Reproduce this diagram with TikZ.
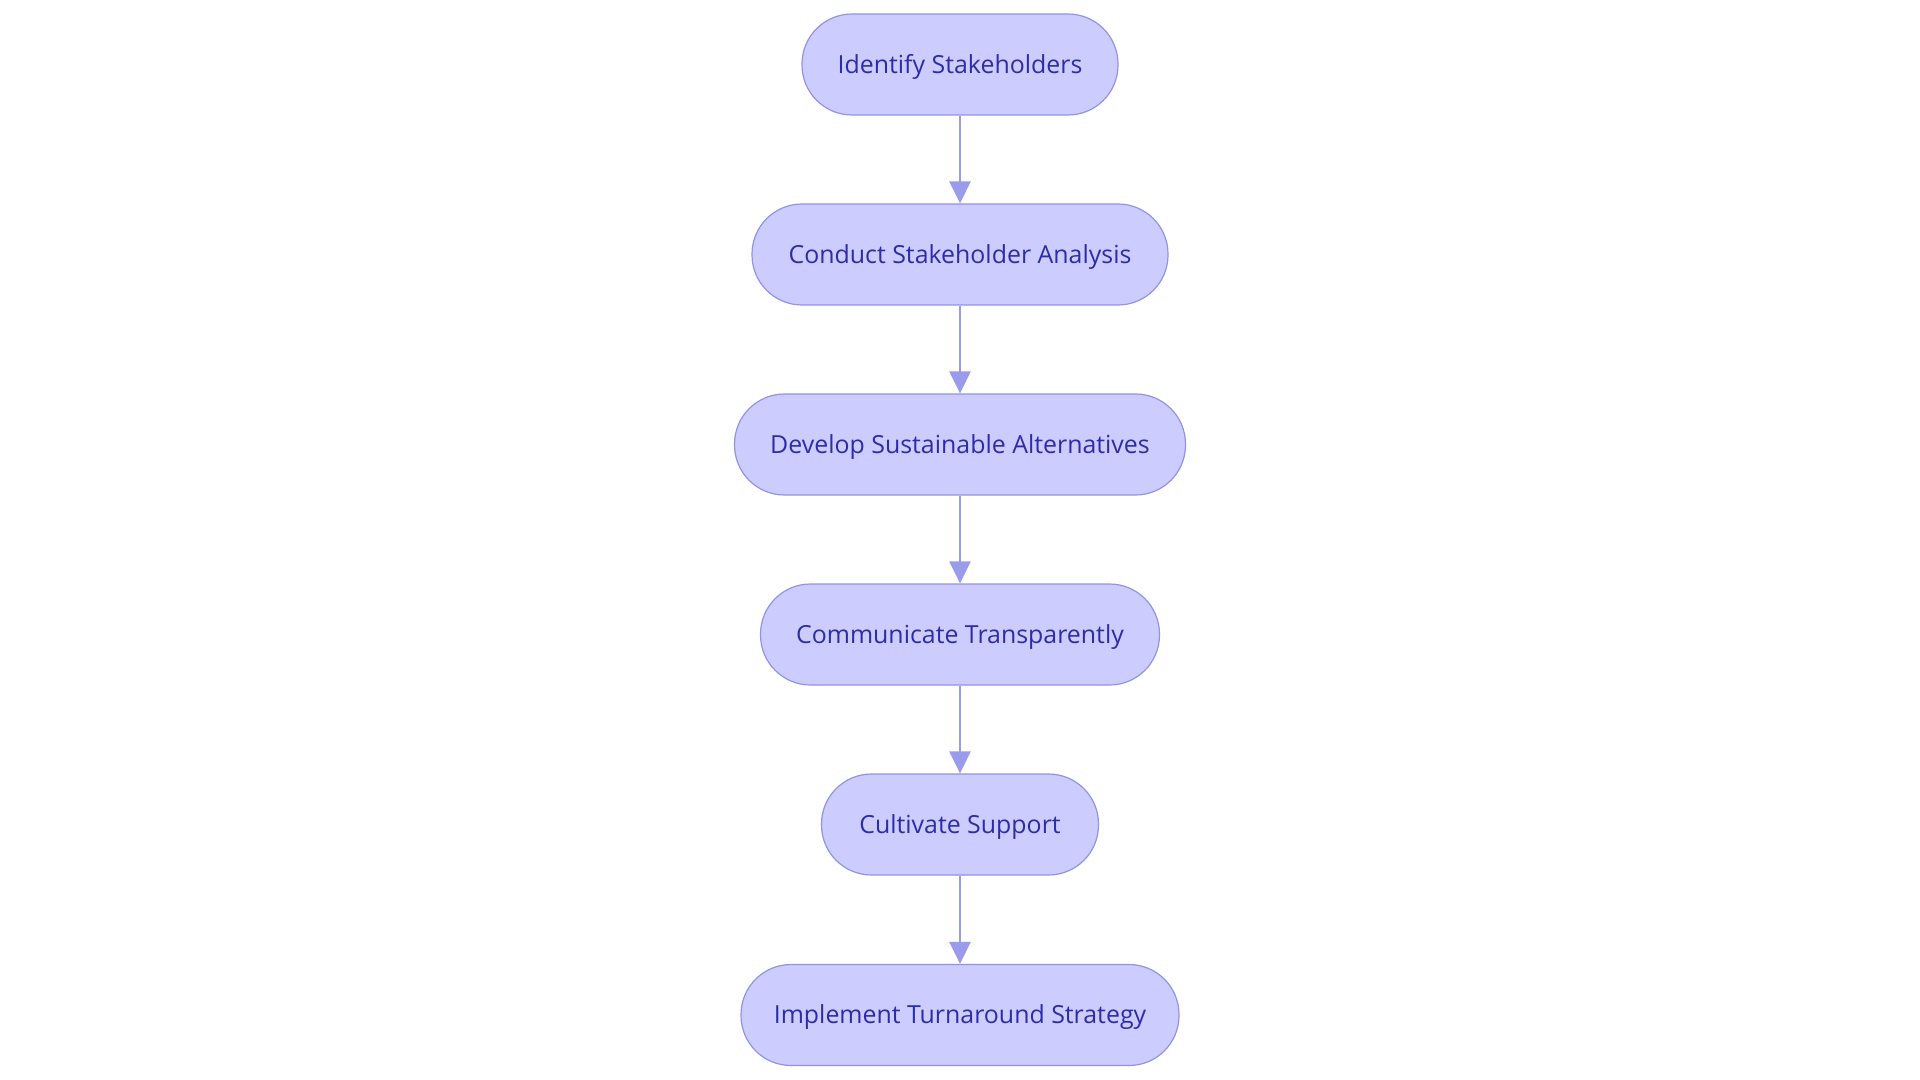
\documentclass[tikz,border=0pt]{standalone}
\usepackage{fontspec}
\setmainfont{Open Sans}
\usetikzlibrary{arrows.meta}
\definecolor{boxfill}{RGB}{204,204,255}
\definecolor{boxdraw}{RGB}{147,147,230}
\definecolor{boxtext}{RGB}{45,45,170}
\definecolor{arrowcol}{RGB}{155,155,235}
\tikzset{
  stepbox/.style={draw=boxdraw, fill=boxfill, line width=0.6pt, rounded corners=25pt,
    minimum height=50.5pt, inner sep=0pt, text=boxtext,
    text height=8.9pt, text depth=0pt,
    font=\fontsize{12.45}{15}\selectfont},
  flow/.style={draw=arrowcol, line width=1.4pt, -{Triangle[length=11pt,width=10.5pt]}}
}
\begin{document}
\begin{tikzpicture}[x=0.5pt,y=-0.5pt]
\useasboundingbox (0,0) rectangle (1920,1080);
\node[stepbox, minimum width=158pt] (n1) at (960,64.5) {Identify Stakeholders};
\node[stepbox, minimum width=208pt] (n2) at (960,254.5) {Conduct Stakeholder Analysis};
\node[stepbox, minimum width=225.5pt] (n3) at (960,444.5) {Develop Sustainable Alternatives};
\node[stepbox, minimum width=199.5pt] (n4) at (960,634.5) {Communicate Transparently};
\node[stepbox, minimum width=138.5pt] (n5) at (960,824.5) {Cultivate Support};
\node[stepbox, minimum width=219pt] (n6) at (960,1015) {Implement Turnaround Strategy};
\draw[flow] (n1) -- (n2);
\draw[flow] (n2) -- (n3);
\draw[flow] (n3) -- (n4);
\draw[flow] (n4) -- (n5);
\draw[flow] (n5) -- (n6);
\end{tikzpicture}
\end{document}
